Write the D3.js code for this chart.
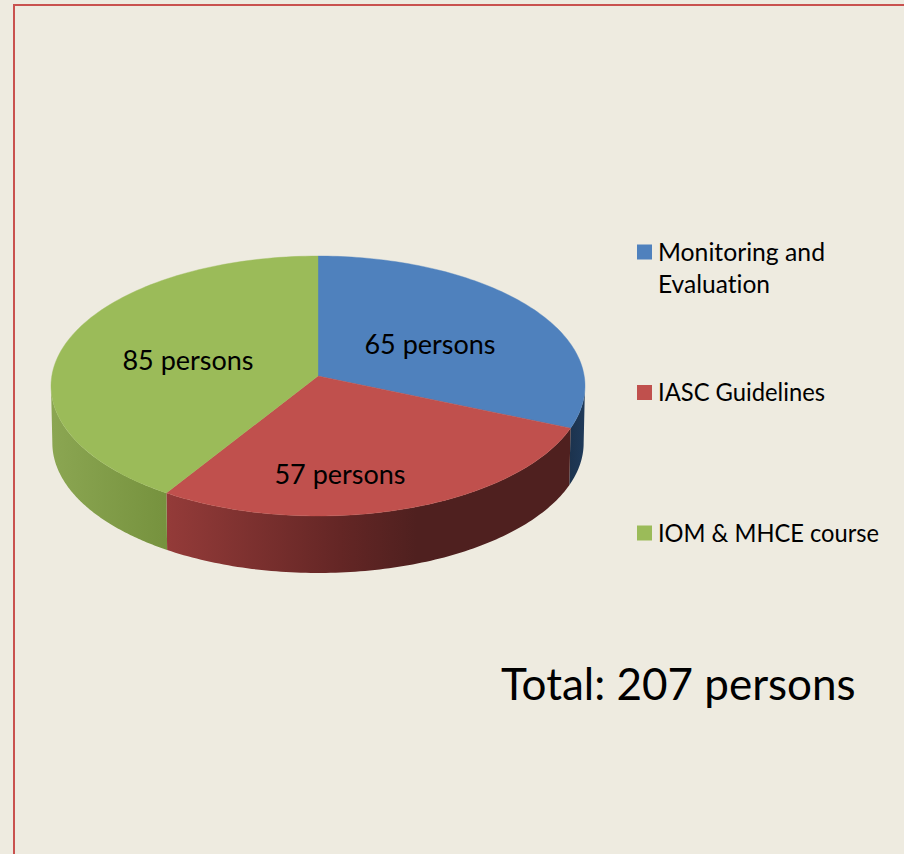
<!DOCTYPE html>
<html lang="en">
<head>
<meta charset="utf-8">
<title>Training participants</title>
<script src="https://cdn.jsdelivr.net/npm/d3@7"></script>
<style>
html, body { margin: 0; padding: 0; background: #eeebe0; overflow: hidden; }
svg { display: block; }
text { font-family: Lato, "Open Sans", sans-serif; fill: #000; font-variant-ligatures: none; }
</style>
</head>
<body>
<svg width="904" height="854"></svg>
<script>
// values
var categories = ["Monitoring and Evaluation", "IASC Guidelines", "IOM & MHCE course"];
var persons = [65, 57, 85];
var legendLines = [["Monitoring and", "Evaluation"], ["IASC Guidelines"], ["IOM & MHCE course"]];
var legendWidths = [[167, 112], [167], [221]];
var totalPersons = 207;

// colours
var topColors = ["#4f81bd", "#c0504d", "#9bbb59"];
var sideStops = [
	[[0, "#1c334e"], [1, "#1f3a5a"]],
	[[0, "#943b39"], [0.43, "#642625"], [0.62, "#4f201f"], [1, "#4f201f"]],
	[[0, "#8ba652"], [1, "#76923e"]]
];

var svg = d3.select("svg");

// frame, open on the right and at the bottom like the slide it was cut from
svg.append("path")
	.attr("d", "M14,854V5H904")
	.attr("fill", "none")
	.attr("stroke", "#c9524f")
	.attr("stroke-width", 2);

var pie = d3.pie().sort(null).startAngle(0).endAngle(2 * Math.PI);
var arcs = pie(persons);

// tilted disc: circle seen in perspective, front edge is closer so it is longer
var cx = 318, cy = 376, R = 266.2, A = 129.2, k = 0.0769, depth = 57;
function project(a, shrink) {
	var u = Math.sin(a), v = -Math.cos(a), w = 1 - k * v;
	return [cx + R * (shrink || 1) * u / w, cy + A * v / w];
}
function rimAngles(a0, a1) {
	return d3.range(0, 101).map(function(i) { return a0 + (a1 - a0) * i / 100; });
}
var line = d3.line();

var defs = svg.append("defs");

// sides first, only the part of each slice that faces the front
// the widest points of the projected circle are where cos(a) = -k
var frontStart = Math.acos(-k), frontEnd = 2 * Math.PI - frontStart;
arcs.forEach(function(d, i) {
	var a0 = Math.max(d.startAngle, frontStart), a1 = Math.min(d.endAngle, frontEnd);
	if (a1 <= a0) return;
	var angles = rimAngles(a0, a1);
	var upper = angles.map(function(a) { return project(a); });
	var lower = angles.slice().reverse().map(function(a) {
		var p = project(a, 0.995);
		return [p[0], p[1] + depth];
	});
	var xs = upper.map(function(p) { return p[0]; });
	var grad = defs.append("linearGradient")
		.attr("id", "side" + i)
		.attr("gradientUnits", "userSpaceOnUse")
		.attr("x1", d3.min(xs)).attr("x2", d3.max(xs))
		.attr("y1", 0).attr("y2", 0);
	sideStops[i].forEach(function(s) {
		grad.append("stop").attr("offset", s[0]).attr("stop-color", s[1]);
	});
	svg.append("path")
		.attr("d", line(upper.concat(lower)) + "Z")
		.attr("fill", "url(#side" + i + ")");
});

// top of the disc
arcs.forEach(function(d, i) {
	var rim = rimAngles(d.startAngle, d.endAngle).map(function(a) { return project(a); });
	svg.append("path")
		.attr("d", line([[cx, cy]].concat(rim)) + "Z")
		.attr("fill", topColors[i])
		.attr("stroke", topColors[i])
		.attr("stroke-width", 0.4);
});

// labels on slices
var labelPos = [[430, 345], [340, 475], [188, 361]];
persons.forEach(function(v, i) {
	svg.append("text")
		.attr("x", labelPos[i][0]).attr("y", labelPos[i][1])
		.attr("dy", "0.35em")
		.attr("text-anchor", "middle")
		.attr("font-size", 27)
		.text(v + " persons");
});

// legend
var legendY = d3.scalePoint().domain(categories).range([252, 533]);
var legend = svg.selectAll("g.legend").data(categories).enter().append("g").attr("class", "legend")
	.attr("transform", function(d) { return "translate(637," + legendY(d) + ")"; });
legend.append("rect")
	.attr("x", 0).attr("y", -7.5)
	.attr("width", 15).attr("height", 15)
	.attr("fill", function(d, i) { return topColors[i]; });
legend.each(function(d, i) {
	var g = d3.select(this);
	legendLines[i].forEach(function(t, j) {
		g.append("text")
			.attr("x", 21).attr("y", j * 32)
			.attr("dy", "0.35em")
			.attr("font-size", 25)
			.attr("textLength", legendWidths[i][j])
			.attr("lengthAdjust", "spacingAndGlyphs")
			.text(t);
	});
});

svg.append("text")
	.attr("x", 501).attr("y", 685)
	.attr("dy", "0.35em")
	.attr("font-size", 44)
	.text("Total: " + totalPersons + " persons");
</script>
</body>
</html>
